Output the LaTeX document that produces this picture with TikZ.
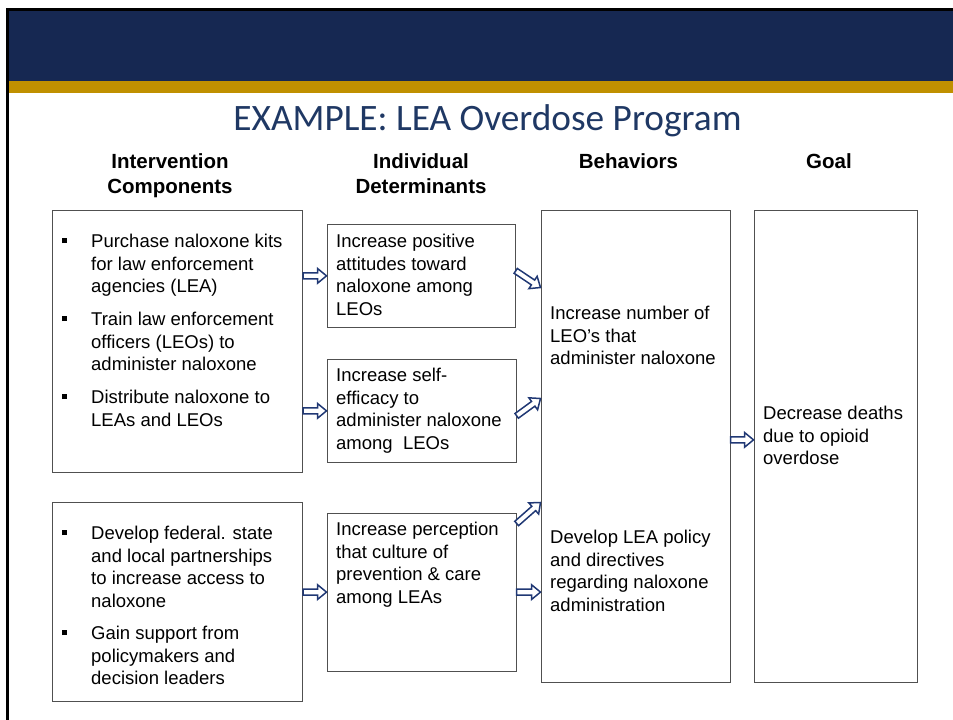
\documentclass[tikz,border=0pt]{standalone}
\usepackage{fontspec}
\setmainfont{Liberation Sans}
\newfontfamily\titlefont{Carlito}
\usepackage{xcolor}
\usetikzlibrary{calc}

\definecolor{bandnavy}{RGB}{22,40,82}
\definecolor{bandgold}{RGB}{192,144,0}
\definecolor{titlenavy}{RGB}{31,56,100}
\definecolor{arrownavy}{RGB}{32,56,116}
\definecolor{boxgray}{RGB}{80,80,80}

% bullet and hanging indent for the list lines
\newcommand{\bullitem}{\strut\makebox[29pt][l]{\rule[4.5pt]{5pt}{5pt}}}
\newcommand{\bullgap}{\makebox[29pt]{}}

% hollow block arrow from #1 to #2
\newcommand{\blockarrow}[2]{%
  \coordinate (ba-from) at (#1);
  \coordinate (ba-to) at (#2);
  \coordinate (ba-base) at ($(ba-to)!9pt!(ba-from)$);
  \draw[hollowarrow] ($(ba-from)!2.9pt!90:(ba-to)$) -- ($(ba-base)!2.9pt!-90:(ba-from)$)
    -- ($(ba-base)!7.4pt!-90:(ba-from)$) -- (ba-to) -- ($(ba-base)!7.4pt!90:(ba-from)$)
    -- ($(ba-base)!2.9pt!90:(ba-from)$) -- ($(ba-from)!2.9pt!-90:(ba-to)$) -- cycle;}

\begin{document}
\begin{tikzpicture}[x=1pt, y=-1pt,
    box/.style={draw=boxgray, line width=1.2pt, inner sep=0pt, anchor=north west},
    head/.style={font=\bfseries\fontsize{20.5}{25}\selectfont, align=center, anchor=north, inner sep=0pt},
    body/.style={font=\fontsize{18.5}{22.5}\selectfont, align=left, anchor=north west, inner sep=0pt},
    hollowarrow/.style={draw=arrownavy, fill=white, line width=1.5pt, line join=miter}]

    \useasboundingbox (0,0) rectangle (953,720);

    % Banner
    \fill[bandnavy] (9,11) rectangle (953,81);
    \fill[bandgold] (9,81) rectangle (953,93);
    \draw[line width=3pt] (7.5,720) -- (7.5,9.5) -- (953,9.5);

    \node[font=\titlefont\fontsize{37.3}{44}\selectfont, text=titlenavy, anchor=base, inner sep=0pt]
        (title) at (487.5,130) {EXAMPLE: LEA Overdose Program};

    % Column heads
    \node[head] (h-comp) at (170,151) {\strut Intervention\\Components};
    \node[head] (h-det) at (421,151) {\strut Individual\\Determinants};
    \node[head] (h-beh) at (628.5,151) {\strut Behaviors};
    \node[head] (h-goal) at (829,151) {\strut Goal};

    % Boxes
    \node[box, minimum width=250.5pt, minimum height=262pt] (A1) at (51.5,209.5) {};
    \node[box, minimum width=250.5pt, minimum height=199pt] (A2) at (51.5,501.5) {};
    \node[box, minimum width=188pt, minimum height=102.5pt] (B1) at (326.5,224) {};
    \node[box, minimum width=189pt, minimum height=103.5pt] (B2) at (326.5,358.5) {};
    \node[box, minimum width=189pt, minimum height=158pt] (B3) at (326.5,512.5) {};
    \node[box, minimum width=189pt, minimum height=472.5pt] (C) at (540.5,209.5) {};
    \node[box, minimum width=163.5pt, minimum height=472.5pt] (D) at (753.5,209.5) {};

    % Box texts
    \node[body] (t-a1) at (62,231.75) {%
        \bullitem Purchase naloxone kits\\\bullgap for law enforcement\\\bullgap agencies (LEA)\\[10.5pt]
        \bullitem Train law enforcement\\\bullgap officers (LEOs) to\\\bullgap administer naloxone\\[10.5pt]
        \bullitem Distribute naloxone to\\\bullgap LEAs and LEOs};
    \node[body] (t-a2) at (62,523.75) {%
        \bullitem Develop federal. state\\\bullgap and local partnerships\\\bullgap to increase access to\\\bullgap naloxone\\[10pt]
        \bullitem Gain support from\\\bullgap policymakers and\\\bullgap decision leaders};
    \node[body] (t-b1) at (336,231.75) {\strut Increase positive\\attitudes toward\\naloxone among\\LEOs};
    \node[body] (t-b2) at (336,365.75) {\strut Increase self-\\efficacy to\\administer naloxone\\among\ \ LEOs};
    \node[body] (t-b3) at (336,519.75) {\strut Increase perception\\that culture of\\prevention \& care\\among LEAs};
    \node[body] (t-c1) at (550,303.75) {\strut Increase number of\\LEO’s that\\administer naloxone};
    \node[body] (t-c2) at (550,527.75) {\strut Develop LEA policy\\and directives\\regarding naloxone\\administration};
    \node[body] (t-d) at (763,403.75) {\strut Decrease deaths\\due to opioid\\overdose};

    % Arrows
    \blockarrow{A1.east |- B1.west}{B1.west}
    \blockarrow{A1.east |- B2.west}{B2.west}
    \blockarrow{A2.east |- B3.west}{B3.west}
    \blockarrow{[yshift=5pt]B1.east}{$(C.north west)+(0,78)$}
    \blockarrow{[yshift=-5pt]B2.east}{$(C.north west)+(0,189)$}
    \blockarrow{$(B3.north east)+(0,11)$}{$(C.north west)+(0,293)$}
    \blockarrow{B3.east}{B3.east -| C.west}
    \blockarrow{[yshift=6.5pt]C.east}{[yshift=6.5pt]D.west}

\end{tikzpicture}
\end{document}
